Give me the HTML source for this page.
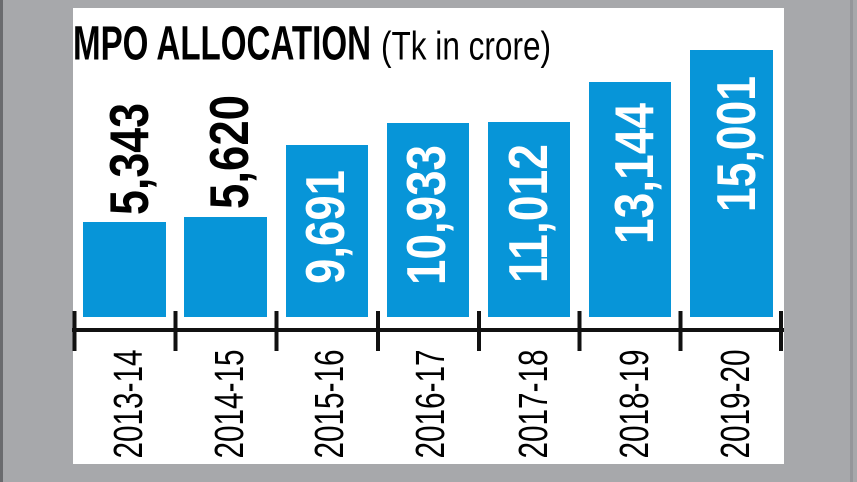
<!DOCTYPE html>
<html>
<head>
<meta charset="utf-8">
<style>
  html,body{margin:0;padding:0;background:#a7a8ab;}
  body{width:857px;height:482px;overflow:hidden;}
  svg{display:block;}
</style>
</head>
<body>
<svg width="857" height="482" viewBox="0 0 857 482" xmlns="http://www.w3.org/2000/svg">
  <rect x="0" y="0" width="857" height="482" fill="#a7a8ab"/>
  <rect x="0" y="0" width="3" height="482" fill="#6a6b6e"/>
  <rect x="850" y="0" width="3" height="482" fill="#95969a"/>
  <rect x="73" y="8" width="711" height="456" fill="#ffffff"/>

  <!-- Title -->
  <text x="73" y="59.5" font-family="Liberation Sans, sans-serif" font-weight="bold" font-size="48" fill="#000" textLength="298" lengthAdjust="spacingAndGlyphs">MPO ALLOCATION</text>
  <text x="381" y="59.5" font-family="Liberation Sans, sans-serif" font-size="40" fill="#000" textLength="170" lengthAdjust="spacingAndGlyphs">(Tk in crore)</text>

  <!-- Bars -->
  <g fill="#0795d8">
    <rect x="83" y="222" width="83" height="95"/>
    <rect x="184" y="217" width="83" height="100"/>
    <rect x="286" y="145" width="82" height="172"/>
    <rect x="387" y="123" width="82" height="194"/>
    <rect x="488" y="122" width="82" height="195"/>
    <rect x="589" y="82" width="82" height="235"/>
    <rect x="690" y="50" width="83" height="267"/>
  </g>

  <!-- Axis -->
  <rect x="72" y="328" width="712" height="4" fill="#111"/>
  <g fill="#111">
    <rect x="72.5" y="311" width="4" height="40"/>
    <rect x="173.5" y="311" width="4" height="40"/>
    <rect x="274.5" y="311" width="4" height="40"/>
    <rect x="376" y="311" width="4" height="40"/>
    <rect x="477" y="311" width="4" height="40"/>
    <rect x="577.5" y="311" width="4" height="40"/>
    <rect x="678.5" y="311" width="4" height="40"/>
    <rect x="779" y="311" width="4" height="40"/>
  </g>

  <!-- Value labels -->
  <g font-family="Liberation Sans, sans-serif" font-weight="bold" font-size="55">
    <text transform="translate(148,215) rotate(-90)" fill="#000" textLength="112" lengthAdjust="spacingAndGlyphs">5,343</text>
    <text transform="translate(248,209) rotate(-90)" fill="#000" textLength="114" lengthAdjust="spacingAndGlyphs">5,620</text>
    <text transform="translate(344,284) rotate(-90)" fill="#fff" textLength="114" lengthAdjust="spacingAndGlyphs">9,691</text>
    <text transform="translate(445,285) rotate(-90)" fill="#fff" textLength="140" lengthAdjust="spacingAndGlyphs">10,933</text>
    <text transform="translate(547,283) rotate(-90)" fill="#fff" textLength="139" lengthAdjust="spacingAndGlyphs">11,012</text>
    <text transform="translate(653,244) rotate(-90)" fill="#fff" textLength="141" lengthAdjust="spacingAndGlyphs">13,144</text>
    <text transform="translate(755,212) rotate(-90)" fill="#fff" textLength="136" lengthAdjust="spacingAndGlyphs">15,001</text>
  </g>

  <!-- Category labels -->
  <g font-family="Liberation Sans, sans-serif" font-size="41" fill="#000">
    <text transform="translate(142,458.5) rotate(-90)" textLength="109" lengthAdjust="spacingAndGlyphs">2013-14</text>
    <text transform="translate(243,458.5) rotate(-90)" textLength="109" lengthAdjust="spacingAndGlyphs">2014-15</text>
    <text transform="translate(343,458.5) rotate(-90)" textLength="109" lengthAdjust="spacingAndGlyphs">2015-16</text>
    <text transform="translate(444,458.5) rotate(-90)" textLength="109" lengthAdjust="spacingAndGlyphs">2016-17</text>
    <text transform="translate(547,458.5) rotate(-90)" textLength="109" lengthAdjust="spacingAndGlyphs">2017-18</text>
    <text transform="translate(648,458.5) rotate(-90)" textLength="109" lengthAdjust="spacingAndGlyphs">2018-19</text>
    <text transform="translate(749,458.5) rotate(-90)" textLength="109" lengthAdjust="spacingAndGlyphs">2019-20</text>
  </g>
</svg>
</body>
</html>
